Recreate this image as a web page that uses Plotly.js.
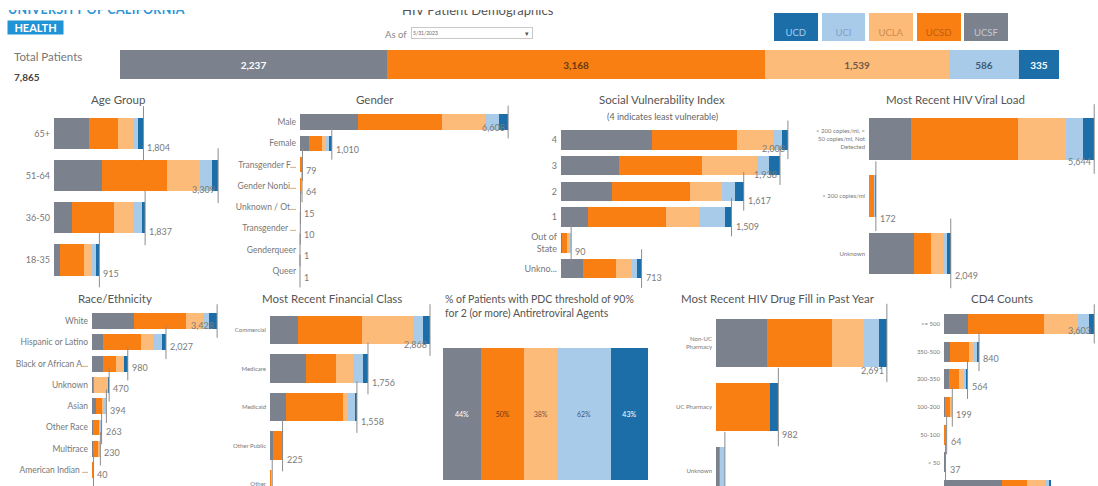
<!DOCTYPE html>
<html><head><meta charset="utf-8">
<script src="https://cdn.plot.ly/plotly-3.0.1.min.js"></script>
<style>
html,body{margin:0;padding:0;background:#fff;overflow:hidden}
#wrap{position:relative;width:1098px;height:486px}
#chart{position:absolute;left:0;top:0;width:1098px;height:486px}
.cut{position:absolute;overflow:hidden;height:8px;top:10px;white-space:nowrap;z-index:5}
.cut span{position:absolute;left:0;line-height:15px}
</style></head><body>
<div id="wrap"><div id="chart"></div>
<div class="cut" style="left:8px;width:200px"><span style="top:-8px;font:bold 12.5px Lato,sans-serif;letter-spacing:0.3px;color:#2b95d6">UNIVERSITY OF CALIFORNIA</span></div>
<div class="cut" style="left:402px;width:180px"><span style="top:-8px;font:13px Lato,sans-serif;color:#555">HIV Patient Demographics</span></div>
</div>
<script>
// ---------- DATA ----------
const universities = ['UCSF','UCSD','UCLA','UCI','UCD'];
const legendOrder = ['UCD','UCI','UCLA','UCSD','UCSF'];
const totalByUniversity = [2237, 3168, 1539, 586, 335];
const totalPatients = 7865;

const ageGroups = ['65+','51-64','36-50','18-35'];
const ageUCSF = [706, 967, 363, 121];
const ageUCSD = [585, 1310, 847, 484];
const ageUCLA = [302, 665, 383, 161];
const ageUCI  = [100, 242, 181, 80];
const ageUCD  = [111, 125, 63, 69];
const ageTotals = [1804, 3309, 1837, 915];

const genderCats = ['Male','Female','Transgender F...','Gender Nonbi...','Unknown / Ot...','Transgender ...','Genderqueer','Queer'];
const genderUCSF = [1842, 286, 10, 5, 0, 3, 0, 0];
const genderUCSD = [2667, 413, 45, 40, 0, 4, 0, 0];
const genderUCLA = [1365, 127, 14, 12, 0, 3, 0, 0];
const genderUCI  = [444, 95, 5, 4, 15, 0, 1, 1];
const genderUCD  = [290, 89, 5, 3, 0, 0, 0, 0];
const genderTotals = [6608, 1010, 79, 64, 15, 10, 1, 1];

const sviCats = ['SVI 4','SVI 3','SVI 2','SVI 1','Out of State','Unknown'];
const sviTicks = ['4','3','2','1','Out of<br>State','Unkno...'];
const sviUCSF = [805, 513, 451, 239, 5, 195];
const sviUCSD = [752, 734, 690, 690, 45, 292];
const sviUCLA = [318, 487, 283, 292, 30, 142];
const sviUCI  = [80, 106, 115, 230, 7, 44];
const sviUCD  = [53, 98, 78, 58, 3, 40];
const sviTotals = [2008, 1938, 1617, 1509, 90, 713];

const vlCats = ['<200','>200','Unknown'];
const vlTicks = ['&lt; 200 copies/ml, &lt;<br>50 copies/ml, Not<br>Detected','&gt; 200 copies/ml','Unknown'];
const vlUCSF = [1054, 0, 1128];
const vlUCSD = [2684, 125, 426];
const vlUCLA = [1204, 0, 301];
const vlUCI  = [426, 35, 92];
const vlUCD  = [276, 12, 102];
const vlTotals = [5644, 172, 2049];

const raceCats = ['White','Hispanic or Latino','Black or African A...','Unknown','Asian','Other Race','Multirace','American Indian ...'];
const raceUCSF = [1150, 301, 301, 20, 120, 30, 40, 10];
const raceUCSD = [1425, 1041, 356, 30, 160, 170, 120, 15];
const raceUCLA = [466, 329, 192, 380, 30, 30, 40, 10];
const raceUCI  = [164, 247, 40, 20, 70, 20, 20, 5];
const raceUCD  = [223, 109, 91, 20, 14, 13, 10, 0];
const raceTotals = [3428, 2027, 980, 470, 394, 263, 230, 40];

const finCats = ['Commercial','Medicare','Medicaid','Other Public','Other'];
const finUCSF = [502, 645, 287, 55, 0];
const finUCSD = [1147, 538, 1022, 160, 15];
const finUCLA = [914, 305, 90, 0, 20];
const finUCI  = [179, 179, 125, 5, 5];
const finUCD  = [126, 89, 34, 5, 0];
const finTotals = [2868, 1756, 1558, 225, 40];

const pdcPercent = [44, 50, 38, 62, 43]; // UCSF, UCSD, UCLA, UCI, UCD

const drugCats = ['Non-UC Pharmacy','UC Pharmacy','Unknown'];
const drugTicks = ['Non-UC<br>Pharmacy','UC Pharmacy','Unknown'];
const drugUCSF = [803, 0, 55];
const drugUCSD = [1024, 850, 10];
const drugUCLA = [504, 0, 0];
const drugUCI  = [236, 0, 75];
const drugUCD  = [124, 132, 0];
const drugTotals = [2691, 982, 140];

const cd4Cats = ['>= 500','350-500','200-350','100-200','50-100','< 50','Unknown'];
const cd4Ticks = ['&gt;= 500','350-500','200-350','100-200','50-100','&lt; 50','Unknown'];
const cd4UCSF = [576, 144, 120, 15, 5, 15, 1391];
const cd4UCSD = [1823, 456, 240, 140, 45, 10, 600];
const cd4UCLA = [815, 120, 110, 10, 5, 5, 456];
const cd4UCI  = [264, 72, 50, 25, 5, 5, 80];
const cd4UCD  = [125, 48, 44, 9, 4, 2, 31];
const cd4Totals = [3603, 840, 564, 199, 64, 37, 2558];

// ---------- STYLE ----------
const W = 1098, H = 486;
const uniColors = {UCSF:'#7b828d', UCSD:'#f97f12', UCLA:'#fdbb79', UCI:'#a8cbe9', UCD:'#1c6ea8'};
const uniTextColors = {UCSF:'#ffffff', UCSD:'#6b3a10', UCLA:'#6e5a48', UCI:'#3f5b78', UCD:'#ffffff'};
const legendTextColors = {UCD:'#a7cbee', UCI:'#7ea2c6', UCLA:'#d08a4e', UCSD:'#bf5d10', UCSF:'#c4c8cd'};

const data = [];
const annotations = [];
const layout = {
  width: W, height: H, margin: {l:0, r:0, t:0, b:0},
  paper_bgcolor: '#fff', plot_bgcolor: 'rgba(0,0,0,0)',
  barmode: 'stack', showlegend: false,
  font: {family: 'Lato, "Open Sans", sans-serif', color: '#666'},
  annotations: annotations
};
function ax(n){ return n === 1 ? '' : String(n); }
function dom(c){ return {x:[c.x0/W, c.x1/W], y:[1 - c.y1/H, 1 - c.y0/H]}; }

function panel(n, cats, series, totals, ticks, c){
  const xa = 'x' + ax(n), ya = 'y' + ax(n);
  const d = dom(c);
  layout['xaxis' + ax(n)] = {domain: d.x, range: [0, c.xmax], anchor: ya, visible: false, fixedrange: true};
  layout['yaxis' + ax(n)] = {domain: d.y, range: c.yr, anchor: xa, type: 'category',
    categoryorder: 'array', categoryarray: cats,
    tickmode: 'array', tickvals: cats, ticktext: ticks, showgrid: false, zeroline: false,
    showline: false, ticks: '', showticklabels: true, ticklabelstandoff: 3,
    tickfont: {size: c.tf || 8, color: '#777'}, fixedrange: true};
  series.forEach(function(vals, i){
    const u = universities[i];
    data.push({type:'bar', orientation:'h', x: vals, y: cats, width: c.bw,
      xaxis: xa, yaxis: ya, marker: {color: uniColors[u], line: {width: 0}},
      hoverinfo: 'skip', showlegend: false, name: u});
  });
  const pxPerCat = (c.y1 - c.y0) / (c.yr[0] - c.yr[1]);
  const barPx = c.bw * pxPerCat;
  data.push({type:'scatter', mode:'markers', x: totals, y: cats, xaxis: xa, yaxis: ya,
    marker: {symbol:'line-ns-open', size: barPx + 8, color:'#8c8c8c', line:{width:1, color:'#8c8c8c'}},
    hoverinfo:'skip', showlegend:false, cliponaxis:false});
  const scale = (c.x1 - c.x0) / c.xmax;
  totals.forEach(function(t, i){
    const txt = t.toLocaleString('en-US');
    const endPx = c.x0 + t * scale;
    const wpx = txt.length * c.lf * 0.55 + 3;
    const inside = endPx + wpx > c.lim;
    annotations.push({xref: xa, yref: ya, x: t, y: i, text: txt, showarrow: false,
      xanchor: inside ? 'right' : 'left', yanchor: 'middle', xshift: inside ? -1 : 2,
      yshift: c.ys, font: {size: c.lf, color: '#7a7a7a'}});
  });
}

// Top total bar
(function(){
  const c = {x0:120, x1:1059, y0:50, y1:79};
  const d = dom(c);
  layout.xaxis = {domain: d.x, range: [0, totalPatients], anchor: 'y', visible: false, fixedrange: true};
  layout.yaxis = {domain: d.y, range: [0.5, -0.5], anchor: 'x', type: 'category', visible: false, fixedrange: true};
  universities.forEach(function(u, i){
    data.push({type:'bar', orientation:'h', x:[totalByUniversity[i]], y:['Total'], width: 1,
      marker:{color: uniColors[u], line:{width:0}}, text:[totalByUniversity[i].toLocaleString('en-US')],
      textposition:'inside', insidetextanchor:'middle', constraintext:'none',
      textfont:{size:10, color: uniTextColors[u], weight: 'bold'}, hoverinfo:'skip', showlegend:false});
  });
})();

// Colour key boxes
(function(){
  const c = {x0:772, x1:1010, y0:13, y1:41};
  const d = dom(c);
  layout.xaxis2 = {domain: d.x, range: [-0.5, 4.5], anchor: 'y2', type:'category', visible: false, fixedrange: true};
  layout.yaxis2 = {domain: d.y, range: [0, 1], anchor: 'x2', visible: false, fixedrange: true};
  data.push({type:'bar', x: legendOrder, y: legendOrder.map(function(){return 1;}), width: 0.92,
    xaxis:'x2', yaxis:'y2', marker:{color: legendOrder.map(function(u){return uniColors[u];}), line:{width:0}},
    text: legendOrder, textposition:'inside', insidetextanchor:'start', textangle: 0, constraintext:'none',
    textfont:{size:9.5, color: legendOrder.map(function(u){return legendTextColors[u];})},
    hoverinfo:'skip', showlegend:false});
})();

panel(3, ageGroups, [ageUCSF,ageUCSD,ageUCLA,ageUCI,ageUCD], ageTotals, ageGroups,
  {x0:54, x1:232, xmax:3589, y0:112.5, y1:281, yr:[3.5,-0.5], bw:0.74, tf:9, lf:9, ys:-14, lim:232});
panel(4, genderCats, [genderUCSF,genderUCSD,genderUCLA,genderUCI,genderUCD], genderTotals, genderCats,
  {x0:300, x1:530, xmax:7302, y0:111.35, y1:281.75, yr:[7.5,-0.5], bw:0.72, tf:8.5, lf:9, ys:-6, lim:530});
panel(5, sviCats, [sviUCSF,sviUCSD,sviUCLA,sviUCI,sviUCD], sviTotals, sviTicks,
  {x0:561, x1:800, xmax:2115, y0:127, y1:281.5, yr:[5.5,-0.5], bw:0.76, tf:9, lf:9, ys:-9, lim:800});
panel(6, vlCats, [vlUCSF,vlUCSD,vlUCLA,vlUCI,vlUCD], vlTotals, vlTicks,
  {x0:869, x1:1098, xmax:5739, y0:110.4, y1:282, yr:[2.5,-0.5], bw:0.73, tf:6, lf:9, ys:-22, lim:1098});
panel(7, raceCats, [raceUCSF,raceUCSD,raceUCLA,raceUCI,raceUCD], raceTotals, raceCats,
  {x0:92, x1:225, xmax:3644, y0:310.35, y1:480.75, yr:[7.5,-0.5], bw:0.75, tf:8.5, lf:9, ys:-4, lim:225});
panel(8, finCats, [finUCSF,finUCSD,finUCLA,finUCI,finUCD], finTotals, finCats,
  {x0:270, x1:440, xmax:3047, y0:310.75, y1:486, yr:[4.05,-0.5], bw:0.75, tf:6, lf:9, ys:-14, lim:440});

// PDC percentage bar
(function(){
  const c = {x0:443, x1:648, y0:348, y1:480};
  const d = dom(c);
  const sum = pdcPercent.reduce(function(a,b){return a+b;}, 0);
  layout.xaxis9 = {domain: d.x, range: [0, sum], anchor:'y9', visible:false, fixedrange:true};
  layout.yaxis9 = {domain: d.y, range: [0.5, -0.5], anchor:'x9', type:'category', visible:false, fixedrange:true};
  universities.forEach(function(u, i){
    data.push({type:'bar', orientation:'h', x:[pdcPercent[i]], y:['PDC'], width:1, xaxis:'x9', yaxis:'y9',
      marker:{color: uniColors[u], line:{width:0}}, text:[pdcPercent[i] + '%'], textposition:'inside',
      insidetextanchor:'middle', constraintext:'none',
      textfont:{size:7, color: uniTextColors[u]}, hoverinfo:'skip', showlegend:false});
  });
})();

panel(10, drugCats, [drugUCSF,drugUCSD,drugUCLA,drugUCI,drugUCD], drugTotals, drugTicks,
  {x0:716, x1:895, xmax:2819, y0:311, y1:486, yr:[2.234,-0.5], bw:0.75, tf:6, lf:9, ys:-27, lim:895});
panel(11, cd4Cats, [cd4UCSF,cd4UCSD,cd4UCLA,cd4UCI,cd4UCD], cd4Totals, cd4Ticks,
  {x0:944, x1:1098, xmax:3693, y0:310, y1:486, yr:[5.85,-0.5], bw:0.72, tf:6, lf:9, ys:-7, lim:1098});

// ---------- TEXT ----------
function T(text, xpx, ypx, size, color, anchor, extra){
  const a = {xref:'paper', yref:'paper', x: xpx / W, y: 1 - ypx / H, text: text, showarrow:false,
    xanchor: anchor || 'center', yanchor:'middle', font:{size: size, color: color || '#555'}};
  if (extra) Object.keys(extra).forEach(function(k){ a[k] = extra[k]; });
  annotations.push(a);
}
T('HEALTH', 35, 27.5, 11, '#ffffff', 'center', {bgcolor:'#1f93d6', width:54, height:12, borderpad:0.5,
  font:{size:11, color:'#fff', weight:'bold'}});
T('As of', 383, 34, 9.5, '#888', 'left');
T('5/31/2023', 411, 33, 5, '#666', 'left', {width:118, height:8, align:'left', bordercolor:'#c8c8c8', borderwidth:1, bgcolor:'#fff'});
T('▾', 527, 33, 7, '#555', 'center');
T('Total Patients', 12, 57, 11.5, '#777', 'left');
T('7,865', 12, 77, 10, '#444', 'left', {font:{size:10, color:'#444', weight:'bold'}});

T('Age Group', 118, 100, 11.5);
T('Gender', 375, 100, 11.5);
T('Social Vulnerability Index', 662, 100, 11.5);
T('(4 indicates least vulnerable)', 662, 116, 9, '#666');
T('Most Recent HIV Viral Load', 955, 100, 11.5);
T('Race/Ethnicity', 115, 298, 11.5);
T('Most Recent Financial Class', 332, 298, 11.5);
T('% of Patients with PDC threshold of 90%<br>for 2 (or more) Antiretroviral Agents', 443, 306, 10.5, '#555', 'left', {align:'left'});
T('Most Recent HIV Drug Fill in Past Year', 778, 298, 11.5);
T('CD4 Counts', 1002, 298, 11.5);

Plotly.newPlot('chart', data, layout, {staticPlot:true, displayModeBar:false});
</script>
</body></html>
